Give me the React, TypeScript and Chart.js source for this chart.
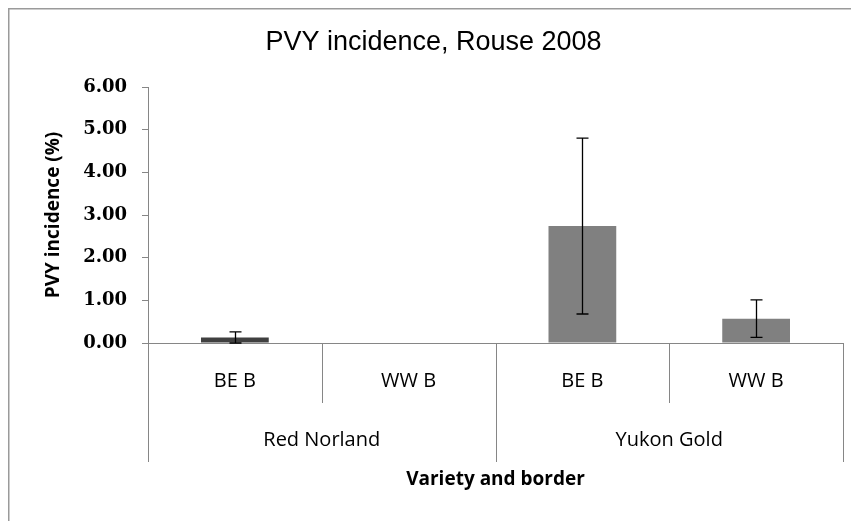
import React, { useEffect, useRef } from "react";
import { Chart, registerables } from "chart.js";

Chart.register(...registerables);

const chartTitle = "PVY incidence, Rouse 2008";
const xAxisTitle = "Variety and border";
const yAxisTitle = "PVY incidence (%)";
const categories = ["BE B", "WW B", "BE B", "WW B"];
const groups = ["Red Norland", "Yukon Gold"];
const groupSizes = [2, 2];
const values = [0.13, 0, 2.74, 0.57];
const errors = [0.13, 0, 2.06, 0.44];
const barColors = ["#404040", "#808080", "#808080", "#808080"];
const yTicks = [0, 1, 2, 3, 4, 5, 6];

const AXIS_GRAY = "#868686";

const framePlugin = {
  id: "frame",
  beforeDraw(chart: any) {
    const { ctx, width, height } = chart;
    ctx.save();
    ctx.fillStyle = "#ffffff";
    ctx.fillRect(0, 0, width, height);
    ctx.strokeStyle = "#9a9a9a";
    ctx.lineWidth = 1.5;
    ctx.beginPath();
    ctx.moveTo(0.75, height);
    ctx.lineTo(0.75, 0.75);
    ctx.lineTo(width, 0.75);
    ctx.stroke();
    ctx.restore();
  },
};

const errorBarPlugin = {
  id: "errorBars",
  afterDatasetsDraw(chart: any) {
    const { ctx } = chart;
    const yScale = chart.scales.y;
    const meta = chart.getDatasetMeta(0);
    ctx.save();
    ctx.strokeStyle = "#000000";
    ctx.lineWidth = 1.3;
    meta.data.forEach((bar: any, i: number) => {
      const e = errors[i];
      if (!e) return;
      const x = Math.round(bar.x) + 0.5;
      const yTop = yScale.getPixelForValue(values[i] + e);
      const yBot = yScale.getPixelForValue(Math.max(0, values[i] - e));
      const cap = 6;
      ctx.beginPath();
      ctx.moveTo(x, yTop);
      ctx.lineTo(x, yBot);
      ctx.moveTo(x - cap, yTop);
      ctx.lineTo(x + cap, yTop);
      ctx.moveTo(x - cap, yBot);
      ctx.lineTo(x + cap, yBot);
      ctx.stroke();
    });
    ctx.restore();
  },
};

const groupAxisPlugin = {
  id: "groupAxis",
  afterDraw(chart: any) {
    const { ctx, chartArea } = chart;
    const xs = chart.scales.x;
    const half = (xs.getPixelForValue(1) - xs.getPixelForValue(0)) / 2;
    const bottom = chartArea.bottom;
    const edges: number[] = [0];
    let acc = 0;
    groupSizes.forEach((g) => {
      acc += g;
      edges.push(acc);
    });
    ctx.save();
    ctx.strokeStyle = AXIS_GRAY;
    ctx.lineWidth = 1;
    for (let i = 0; i <= categories.length; i++) {
      const xp =
        i < categories.length
          ? xs.getPixelForValue(i) - half
          : xs.getPixelForValue(categories.length - 1) + half;
      const x = Math.round(xp) + 0.5;
      const outer = edges.includes(i);
      ctx.beginPath();
      ctx.moveTo(x, bottom);
      ctx.lineTo(x, bottom + (outer ? 119 : 60));
      ctx.stroke();
    }
    ctx.fillStyle = "#000000";
    ctx.font = "normal 20px 'Open Sans'";
    ctx.textAlign = "center";
    ctx.textBaseline = "middle";
    let start = 0;
    groups.forEach((g, gi) => {
      const end = start + groupSizes[gi] - 1;
      const cx = (xs.getPixelForValue(start) + xs.getPixelForValue(end)) / 2;
      ctx.fillText(g, cx, bottom + 97);
      start += groupSizes[gi];
    });
    ctx.restore();
  },
};

export default function App() {
  const ref = useRef<HTMLCanvasElement | null>(null);

  useEffect(() => {
    if (!ref.current) return;
    const chart = new Chart(ref.current, {
      type: "bar",
      data: {
        labels: categories,
        datasets: [
          {
            data: values,
            backgroundColor: barColors,
            borderWidth: 0,
            categoryPercentage: 1,
            barPercentage: 0.39,
          },
        ],
      },
      options: {
        responsive: false,
        animation: false,
        layout: { padding: { left: 0, right: 0, top: 0, bottom: 0 } },
        plugins: {
          legend: { display: false },
          tooltip: { enabled: false },
          title: {
            display: true,
            text: chartTitle,
            color: "#000000",
            font: { family: "'Liberation Sans', Arial", size: 27, weight: "normal" },
            padding: { top: 18, bottom: 28.6 },
          },
        },
        scales: {
          x: {
            type: "category",
            offset: true,
            grid: { display: true, drawOnChartArea: false, drawTicks: false },
            border: { display: true, color: AXIS_GRAY },
            ticks: {
              color: "#000000",
              font: { family: "'Open Sans'", size: 20 },
              padding: 26,
              maxRotation: 0,
            },
            title: {
              display: true,
              text: xAxisTitle,
              color: "#000000",
              font: { family: "'Open Sans'", size: 19, weight: "bold" },
              padding: { top: 0, bottom: 30 },
            },
            afterFit: (s: any) => {
              s.height = 178;
            },
          },
          y: {
            min: 0,
            max: 6,
            afterBuildTicks: (s: any) => {
              s.ticks = yTicks.map((v) => ({ value: v }));
            },
            ticks: {
              color: "#000000",
              font: { family: "'DejaVu Serif'", size: 18, weight: "bold" },
              padding: 15,
              callback: (v: any) => Number(v).toFixed(2),
            },
            grid: { drawOnChartArea: false, drawTicks: true, tickLength: 6, color: AXIS_GRAY },
            border: { display: true, color: AXIS_GRAY },
            title: {
              display: true,
              text: yAxisTitle,
              color: "#000000",
              font: { family: "'Open Sans'", size: 19, weight: "bold" },
              padding: { top: 34, bottom: 0 },
            },
            afterFit: (s: any) => {
              s.width = 140;
            },
          },
          yRight: {
            type: "linear",
            position: "right",
            display: true,
            min: 0,
            max: 6,
            grid: { display: false, drawTicks: false },
            border: { display: false },
            ticks: { display: false },
            afterFit: (s: any) => {
              s.width = 16;
            },
          },
        },
      },
      plugins: [framePlugin, errorBarPlugin, groupAxisPlugin],
    });
    return () => chart.destroy();
  }, []);

  return (
    <div style={{ width: 851, height: 513 }}>
      <canvas ref={ref} width={851} height={513} style={{ display: "block" }} />
    </div>
  );
}
